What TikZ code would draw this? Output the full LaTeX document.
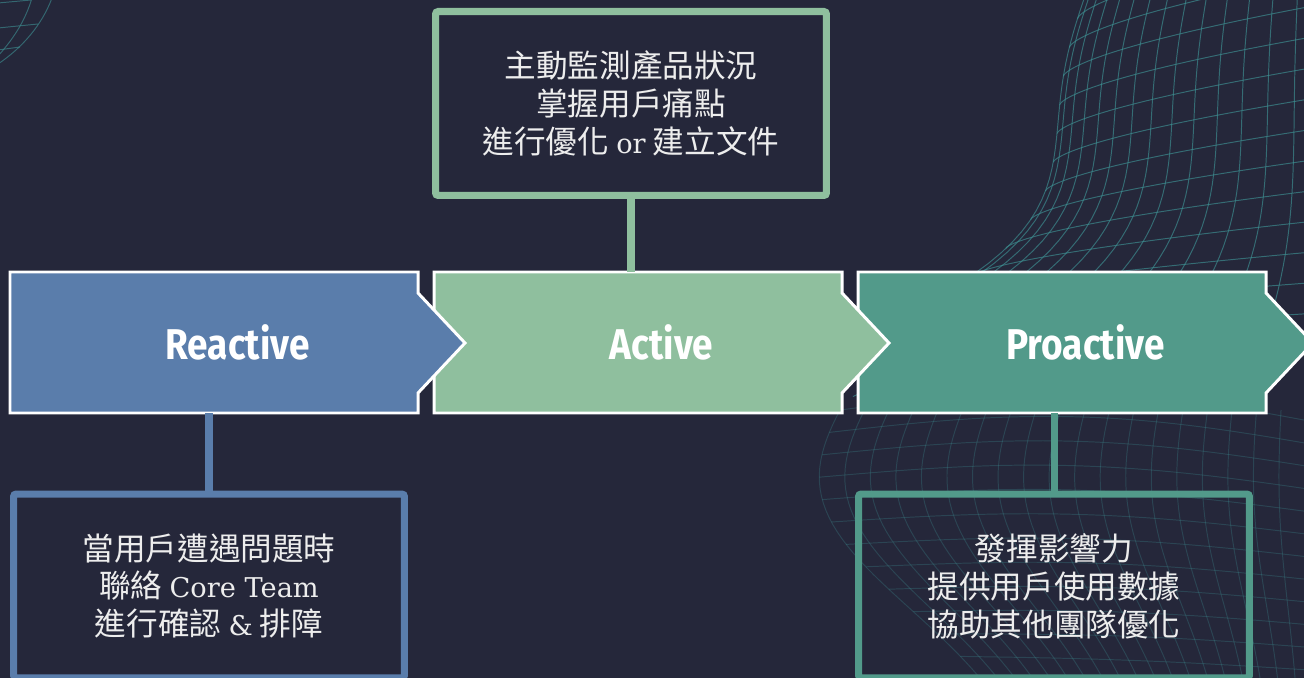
\documentclass[tikz,border=0pt]{standalone}
\usepackage{fontspec}
\newfontfamily\slabfont{DejaVu Serif}
\newfontfamily\cjkfont{Noto Sans CJK TC}
\newfontfamily\stagefont[FakeStretch=0.86]{Fira Sans}
\usepackage{tikz}
\usetikzlibrary{positioning}
\usepackage{xcolor}

\definecolor{bgnavy}{HTML}{25273A}
\definecolor{reactblue}{HTML}{5A7DAB}
\definecolor{activegreen}{HTML}{8FBF9E}
\definecolor{proteal}{HTML}{529A8A}
\definecolor{meshteal}{HTML}{3E9294}

\newcommand{\slab}[1]{{\slabfont\fontsize{15.5pt}{21.6pt}\selectfont #1}}
% chevron: body 408 wide, tip 47 deep; #1 = left edge, #2 = fill
\newcommand{\chevron}[2]{%
  \draw[white, line width=1.7pt, fill=#2] (#1,272) -- ++(408,0) -- ++(0,21)
    -- ++(47,50) -- ++(-47,50) -- ++(0,20) -- ++(-408,0) -- cycle;}

\tikzset{
  stage/.style={minimum width=9.1cm, minimum height=2.82cm, inner sep=0pt,
    text=white, font=\stagefont\bfseries\fontsize{24.5pt}{24.5pt}\selectfont},
  note/.style={draw=#1, line width=4pt, rounded corners=1.5pt,
    minimum width=7.82cm, minimum height=3.68cm, align=center,
    text=white!93!black, font=\cjkfont\fontsize{18pt}{21.6pt}\selectfont},
  stem/.style={draw=#1, line width=4pt},
  meshline/.style={meshteal, line width=0.55pt},
}

\begin{document}
\begin{tikzpicture}[x=0.02cm, y=-0.02cm]
    \fill[bgnavy] (0,0) rectangle (1304,678);
    \useasboundingbox (0,0) rectangle (1304,678);
    %% wire mesh in the corners
    \begin{scope}
      \clip (0,0) rectangle (1304,678);
      \begin{scope}[meshline, opacity=.65]
        \foreach \u in {0,0.07,...,1.01}
          \draw plot[domain=0:1, samples=40, variable=\v]
            ({1087-20*sin(400*\v)-400*\v*\v*\v + (1330-1087+20*sin(400*\v)+400*\v*\v*\v)*\u*sqrt(\u)},
             {-10+410*\v-8*\u});
        \foreach \v in {0,0.07,...,1.01}
          \draw plot[domain=0:1, samples=40, variable=\u]
            ({1087-20*sin(400*\v)-400*\v*\v*\v + (1330-1087+20*sin(400*\v)+400*\v*\v*\v)*\u*sqrt(\u)},
             {-10+410*\v-80*\u*(1-.4*\v)});
      \end{scope}
      \begin{scope}[meshline, opacity=.28]
        \foreach \u in {0,0.05,...,1.01}
          \draw plot[domain=0:1, samples=40, variable=\w]
            ({840-30*sin(280*\w)+120*\w*\w + (1330-840+30*sin(280*\w)-120*\w*\w)*\u},
             {410+280*\w});
        \foreach \w in {0,0.08,...,1.01}
          \draw plot[domain=0:1, samples=40, variable=\u]
            ({840-30*sin(280*\w)+120*\w*\w + (1330-840+30*sin(280*\w)-120*\w*\w)*\u},
             {410+280*\w-25*sin(180*\u)*(1-\w)+15*\u});
      \end{scope}
      \begin{scope}[meshline, opacity=.6]
        \draw (52,-2) .. controls (42,25) and (22,48) .. (-2,64);
        \draw (-2,3) -- (31,0);
        \draw (-2,28) -- (38,24);
        \draw (-2,50) -- (20,47);
        \draw (32,-2) .. controls (26,18) and (16,36) .. (-2,56);
      \end{scope}
    \end{scope}
    %% the three stages
    \chevron{858}{proteal}
    \chevron{434}{activegreen}
    \chevron{10}{reactblue}
    \node[stage] (reactive) at (237.5,342.5) {Reactive};
    \node[stage] (active) at (661.5,342.5) {Active};
    \node[stage] (proactive) at (1085.5,342.5) {Proactive};
    %% notes
    \node[note=activegreen] (anote) at (631,103.5)
      {主動監測產品狀況\\掌握用戶痛點\\進行優化 \slab{or} 建立文件};
    \node[note=reactblue] (rnote) at (209,586)
      {當用戶遭遇問題時\\聯絡 \slab{Core Team}\\進行確認 \slab{\&} 排障};
    \node[note=proteal] (pnote) at (1054,586)
      {發揮影響力\\提供用戶使用數據\\協助其他團隊優化};
    \draw[stem=activegreen] (anote.south) -- (anote.south |- active.north);
    \draw[stem=reactblue] (rnote.north) -- (rnote.north |- reactive.south);
    \draw[stem=proteal] (pnote.north) -- (pnote.north |- proactive.south);
\end{tikzpicture}
\end{document}
